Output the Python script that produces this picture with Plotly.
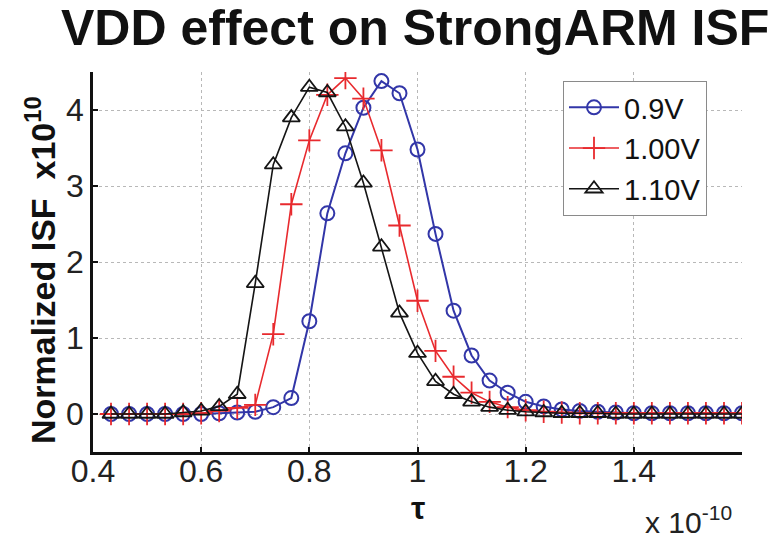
import plotly.graph_objects as go

# time samples (units of 1e-10 s)
tau = [0.4333, 0.4667, 0.5, 0.5333, 0.5667, 0.6, 0.6333, 0.6667, 0.7, 0.7333,
       0.7667, 0.8, 0.8333, 0.8667, 0.9, 0.9333, 0.9667, 1.0, 1.0333, 1.0667,
       1.1, 1.1333, 1.1667, 1.2, 1.2333, 1.2667, 1.3, 1.3333, 1.3667, 1.4,
       1.4333, 1.4667, 1.5, 1.5333, 1.5667, 1.6]

isf_090 = [0.0, 0.0, 0.0, 0.0, 0.0, 0.0, 0.01, 0.02, 0.03, 0.09,
           0.21, 1.22, 2.64, 3.43, 4.03, 4.38, 4.22, 3.48, 2.37, 1.36,
           0.77, 0.44, 0.28, 0.16, 0.10, 0.06, 0.04, 0.03, 0.02, 0.01,
           0.01, 0.01, 0.01, 0.01, 0.01, 0.01]

isf_100 = [0.0, 0.0, 0.0, 0.0, 0.0, 0.01, 0.04, 0.08, 0.12, 1.05,
           2.76, 3.60, 4.20, 4.42, 4.15, 3.47, 2.48, 1.49, 0.83, 0.49,
           0.28, 0.16, 0.09, 0.05, 0.03, 0.02, 0.01, 0.01, 0.01, 0.01,
           0.01, 0.01, 0.01, 0.01, 0.01, 0.01]

isf_110 = [0.0, 0.0, 0.0, 0.0, 0.02, 0.04, 0.10, 0.26, 1.72, 3.28,
           3.90, 4.30, 4.23, 3.78, 3.04, 2.20, 1.33, 0.80, 0.43, 0.26,
           0.16, 0.09, 0.05, 0.03, 0.02, 0.01, 0.01, 0.01, 0.0, 0.0,
           0.0, 0.0, 0.0, 0.0, 0.0, 0.0]

series_names = ["0.9V", "1.00V", "1.10V"]
x_ticks = [0.4, 0.6, 0.8, 1.0, 1.2, 1.4]
x_tick_text = ["0.4", "0.6", "0.8", "1", "1.2", "1.4"]
y_ticks = [0, 1, 2, 3, 4]

FONT = "Liberation Sans, Arial, Helvetica, sans-serif"

fig = go.Figure()
fig.add_trace(go.Scatter(
    x=tau, y=isf_090, name=series_names[0], mode="lines+markers",
    line=dict(color="#3236a8", width=2),
    marker=dict(symbol="circle-open", size=14, color="#3236a8",
                line=dict(width=2, color="#3236a8"))))
fig.add_trace(go.Scatter(
    x=tau, y=isf_100, name=series_names[1], mode="lines+markers",
    line=dict(color="#e82a2e", width=1.6),
    marker=dict(symbol="cross-thin-open", size=16, color="#e82a2e",
                line=dict(width=1.8, color="#e82a2e"))))
fig.add_trace(go.Scatter(
    x=tau, y=isf_110, name=series_names[2], mode="lines+markers",
    line=dict(color="#151515", width=1.6),
    marker=dict(symbol="triangle-up-open", size=15, color="#151515",
                line=dict(width=1.8, color="#151515"))))

L, R, T, B = 93, 40, 72, 89
W, H = 782, 541
pw, ph = W - L - R, H - T - B

def px(x):
    return (x - L) / pw

def py(y):
    return (H - B - y) / ph

fig.update_layout(
    width=W, height=H,
    margin=dict(l=L, r=R, t=T, b=B, pad=0),
    paper_bgcolor="white", plot_bgcolor="white",
    font=dict(family=FONT, color="#111"),
    showlegend=True,
    legend=dict(x=px(563), y=py(81), xanchor="left", yanchor="top",
                bgcolor="white", bordercolor="#8a8a8a", borderwidth=1,
                font=dict(size=29, family=FONT, color="#111"),
                tracegroupgap=0, itemwidth=50),
    xaxis=dict(range=[0.4, 1.6], tickvals=x_ticks, ticktext=x_tick_text,
               showgrid=True, gridcolor="#b8b8b8", griddash="dot", gridwidth=1,
               zeroline=False, showline=True, linecolor="#111", linewidth=2.5,
               ticks="inside", ticklen=5, tickcolor="#111", tickwidth=2,
               ticklabelstandoff=-11,
               tickfont=dict(size=32, family=FONT, color="#222")),
    yaxis=dict(range=[-0.5, 4.5], tickvals=y_ticks,
               showgrid=True, gridcolor="#b8b8b8", griddash="dot", gridwidth=1,
               zeroline=False, showline=True, linecolor="#111", linewidth=2.5,
               ticks="inside", ticklen=5, tickcolor="#111", tickwidth=2,
               tickfont=dict(size=32, family=FONT, color="#222")),
    annotations=[
        dict(text="<b>VDD effect on StrongARM ISF</b>", xref="paper", yref="paper",
             x=px(415), y=py(28), xanchor="center", yanchor="middle",
             showarrow=False, font=dict(size=50, family=FONT, color="#111")),
        dict(text="<b>Normalized ISF  x10<sup>10</sup></b>", xref="paper", yref="paper",
             x=px(40), y=py(270), xanchor="center", yanchor="middle", textangle=-90,
             showarrow=False, font=dict(size=34, family=FONT, color="#111")),
        dict(text="<b>τ</b>", xref="paper", yref="paper",
             x=px(418), y=py(508), xanchor="center", yanchor="middle",
             showarrow=False, font=dict(size=32, family=FONT, color="#111")),
        dict(text="x 10<sup>-10</sup>", xref="paper", yref="paper",
             x=px(688), y=py(520), xanchor="center", yanchor="middle",
             showarrow=False, font=dict(size=30, family=FONT, color="#222")),
    ],
)

fig.write_html("out.html")
